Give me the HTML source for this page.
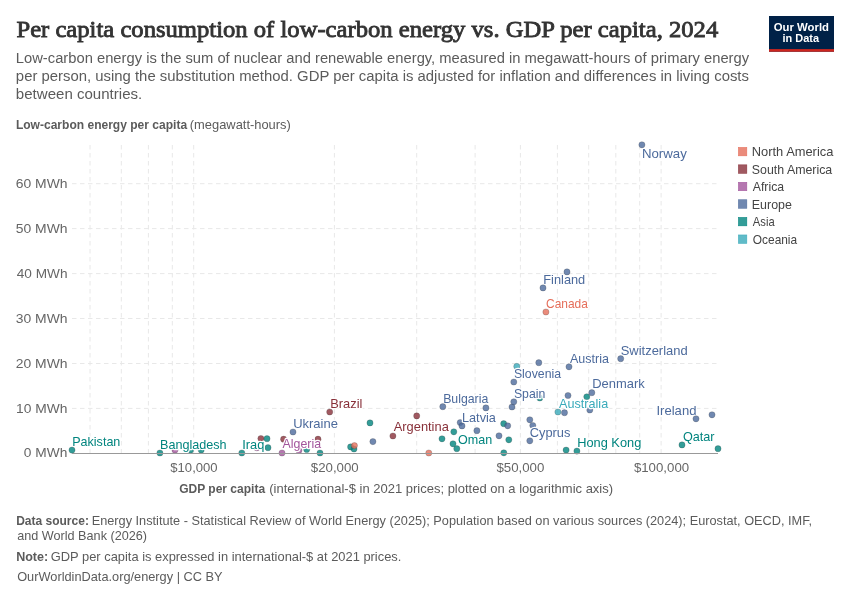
<!DOCTYPE html><html><head><meta charset="utf-8"><style>html,body{margin:0;padding:0;background:#fff;width:850px;height:600px;overflow:hidden}svg{display:block;will-change:transform}</style></head><body>
<svg width="850" height="600" viewBox="0 0 850 600">
<rect width="850" height="600" fill="#fff"/>
<text x="16.46" y="37.1" font-family='"Liberation Serif", serif' font-size="23.8" fill="#333" textLength="701.78" lengthAdjust="spacingAndGlyphs" stroke="#333" stroke-width="0.85">Per capita consumption of low-carbon energy vs. GDP per capita, 2024</text>
<text x="15.8" y="62.8" font-family='"Liberation Sans", sans-serif' font-size="14.7" fill="#5b5b5b" textLength="733.31" lengthAdjust="spacingAndGlyphs">Low-carbon energy is the sum of nuclear and renewable energy, measured in megawatt-hours of primary energy</text>
<text x="15.89" y="80.8" font-family='"Liberation Sans", sans-serif' font-size="14.7" fill="#5b5b5b" textLength="733.06" lengthAdjust="spacingAndGlyphs">per person, using the substitution method. GDP per capita is adjusted for inflation and differences in living costs</text>
<text x="15.88" y="98.7" font-family='"Liberation Sans", sans-serif' font-size="14.7" fill="#5b5b5b" textLength="126.35" lengthAdjust="spacingAndGlyphs">between countries.</text>
<rect x="769" y="16" width="65" height="35.7" fill="#002147"/>
<rect x="769" y="49.1" width="65" height="2.6" fill="#CE261E"/>
<text x="773.8" y="30.7" font-family='"Liberation Sans", sans-serif' font-size="11.5" font-weight="700" fill="#fff" textLength="55.22" lengthAdjust="spacingAndGlyphs">Our World</text>
<text x="782.55" y="42.4" font-family='"Liberation Sans", sans-serif' font-size="11.5" font-weight="700" fill="#fff" textLength="36.53" lengthAdjust="spacingAndGlyphs">in Data</text>
<text x="15.9" y="129.3" font-family='"Liberation Sans", sans-serif' font-size="12" font-weight="700" fill="#5b5b5b" textLength="171.22" lengthAdjust="spacingAndGlyphs">Low-carbon energy per capita</text>
<text x="189.78" y="129.3" font-family='"Liberation Sans", sans-serif' font-size="12.7" fill="#5b5b5b" textLength="101.05" lengthAdjust="spacingAndGlyphs">(megawatt-hours)</text>
<line x1="90.0" y1="145" x2="90.0" y2="453" stroke="#e8e8e8" stroke-width="1" stroke-dasharray="4.5,3.5"/>
<line x1="121.3" y1="145" x2="121.3" y2="453" stroke="#e8e8e8" stroke-width="1" stroke-dasharray="4.5,3.5"/>
<line x1="148.4" y1="145" x2="148.4" y2="453" stroke="#e8e8e8" stroke-width="1" stroke-dasharray="4.5,3.5"/>
<line x1="172.3" y1="145" x2="172.3" y2="453" stroke="#e8e8e8" stroke-width="1" stroke-dasharray="4.5,3.5"/>
<line x1="193.7" y1="145" x2="193.7" y2="453" stroke="#e8e8e8" stroke-width="1" stroke-dasharray="4.5,3.5"/>
<line x1="334.4" y1="145" x2="334.4" y2="453" stroke="#e8e8e8" stroke-width="1" stroke-dasharray="4.5,3.5"/>
<line x1="416.7" y1="145" x2="416.7" y2="453" stroke="#e8e8e8" stroke-width="1" stroke-dasharray="4.5,3.5"/>
<line x1="475.1" y1="145" x2="475.1" y2="453" stroke="#e8e8e8" stroke-width="1" stroke-dasharray="4.5,3.5"/>
<line x1="520.4" y1="145" x2="520.4" y2="453" stroke="#e8e8e8" stroke-width="1" stroke-dasharray="4.5,3.5"/>
<line x1="557.4" y1="145" x2="557.4" y2="453" stroke="#e8e8e8" stroke-width="1" stroke-dasharray="4.5,3.5"/>
<line x1="588.7" y1="145" x2="588.7" y2="453" stroke="#e8e8e8" stroke-width="1" stroke-dasharray="4.5,3.5"/>
<line x1="615.8" y1="145" x2="615.8" y2="453" stroke="#e8e8e8" stroke-width="1" stroke-dasharray="4.5,3.5"/>
<line x1="639.7" y1="145" x2="639.7" y2="453" stroke="#e8e8e8" stroke-width="1" stroke-dasharray="4.5,3.5"/>
<line x1="661.1" y1="145" x2="661.1" y2="453" stroke="#e8e8e8" stroke-width="1" stroke-dasharray="4.5,3.5"/>
<line x1="72" y1="408.4" x2="718" y2="408.4" stroke="#e8e8e8" stroke-width="1" stroke-dasharray="4.5,3.5"/>
<line x1="72" y1="363.5" x2="718" y2="363.5" stroke="#e8e8e8" stroke-width="1" stroke-dasharray="4.5,3.5"/>
<line x1="72" y1="318.5" x2="718" y2="318.5" stroke="#e8e8e8" stroke-width="1" stroke-dasharray="4.5,3.5"/>
<line x1="72" y1="273.6" x2="718" y2="273.6" stroke="#e8e8e8" stroke-width="1" stroke-dasharray="4.5,3.5"/>
<line x1="72" y1="228.6" x2="718" y2="228.6" stroke="#e8e8e8" stroke-width="1" stroke-dasharray="4.5,3.5"/>
<line x1="72" y1="183.7" x2="718" y2="183.7" stroke="#e8e8e8" stroke-width="1" stroke-dasharray="4.5,3.5"/>
<text x="15.73" y="188.1" font-family='"Liberation Sans", sans-serif' font-size="13" fill="#666" textLength="51.8" lengthAdjust="spacingAndGlyphs">60 MWh</text>
<text x="15.73" y="233.0" font-family='"Liberation Sans", sans-serif' font-size="13" fill="#666" textLength="51.8" lengthAdjust="spacingAndGlyphs">50 MWh</text>
<text x="16.8" y="278.0" font-family='"Liberation Sans", sans-serif' font-size="13" fill="#666" textLength="50.73" lengthAdjust="spacingAndGlyphs">40 MWh</text>
<text x="15.73" y="322.9" font-family='"Liberation Sans", sans-serif' font-size="13" fill="#666" textLength="51.8" lengthAdjust="spacingAndGlyphs">30 MWh</text>
<text x="15.73" y="367.9" font-family='"Liberation Sans", sans-serif' font-size="13" fill="#666" textLength="51.8" lengthAdjust="spacingAndGlyphs">20 MWh</text>
<text x="16.14" y="412.8" font-family='"Liberation Sans", sans-serif' font-size="13" fill="#666" textLength="51.39" lengthAdjust="spacingAndGlyphs">10 MWh</text>
<text x="23.8" y="457.3" font-family='"Liberation Sans", sans-serif' font-size="13" fill="#666" textLength="43.48" lengthAdjust="spacingAndGlyphs">0 MWh</text>
<text x="170.3" y="471.7" font-family='"Liberation Sans", sans-serif' font-size="13" fill="#666" textLength="47.3" lengthAdjust="spacingAndGlyphs">$10,000</text>
<text x="310.8" y="471.7" font-family='"Liberation Sans", sans-serif' font-size="13" fill="#666" textLength="47.9" lengthAdjust="spacingAndGlyphs">$20,000</text>
<text x="496.4" y="471.7" font-family='"Liberation Sans", sans-serif' font-size="13" fill="#666" textLength="48.0" lengthAdjust="spacingAndGlyphs">$50,000</text>
<text x="633.9" y="471.7" font-family='"Liberation Sans", sans-serif' font-size="13" fill="#666" textLength="55.24" lengthAdjust="spacingAndGlyphs">$100,000</text>
<text x="179.2" y="492.8" font-family='"Liberation Sans", sans-serif' font-size="12" font-weight="700" fill="#5b5b5b" textLength="85.91" lengthAdjust="spacingAndGlyphs">GDP per capita</text>
<text x="269.19" y="492.8" font-family='"Liberation Sans", sans-serif' font-size="12.9" fill="#5b5b5b" textLength="343.9" lengthAdjust="spacingAndGlyphs">(international-$ in 2021 prices; plotted on a logarithmic axis)</text>
<circle cx="567" cy="271.9" r="3.1" fill="#4C6A9C" fill-opacity="0.8" stroke="#333" stroke-opacity="0.45" stroke-width="0.5"/>
<circle cx="538.8" cy="362.7" r="3.1" fill="#4C6A9C" fill-opacity="0.8" stroke="#333" stroke-opacity="0.45" stroke-width="0.5"/>
<circle cx="516.8" cy="366.4" r="3.1" fill="#38AABA" fill-opacity="0.8" stroke="#333" stroke-opacity="0.45" stroke-width="0.5"/>
<circle cx="586.8" cy="396.8" r="3.1" fill="#00847E" fill-opacity="0.8" stroke="#333" stroke-opacity="0.45" stroke-width="0.5"/>
<circle cx="568" cy="395.5" r="3.1" fill="#4C6A9C" fill-opacity="0.8" stroke="#333" stroke-opacity="0.45" stroke-width="0.5"/>
<circle cx="539.8" cy="398" r="3.1" fill="#00847E" fill-opacity="0.8" stroke="#333" stroke-opacity="0.45" stroke-width="0.5"/>
<circle cx="512" cy="407" r="3.1" fill="#4C6A9C" fill-opacity="0.8" stroke="#333" stroke-opacity="0.45" stroke-width="0.5"/>
<circle cx="485.9" cy="407.9" r="3.1" fill="#4C6A9C" fill-opacity="0.8" stroke="#333" stroke-opacity="0.45" stroke-width="0.5"/>
<circle cx="589.8" cy="410" r="3.1" fill="#4C6A9C" fill-opacity="0.8" stroke="#333" stroke-opacity="0.45" stroke-width="0.5"/>
<circle cx="564.5" cy="412.7" r="3.1" fill="#4C6A9C" fill-opacity="0.8" stroke="#333" stroke-opacity="0.45" stroke-width="0.5"/>
<circle cx="416.7" cy="415.9" r="3.1" fill="#883039" fill-opacity="0.8" stroke="#333" stroke-opacity="0.45" stroke-width="0.5"/>
<circle cx="712" cy="414.8" r="3.1" fill="#4C6A9C" fill-opacity="0.8" stroke="#333" stroke-opacity="0.45" stroke-width="0.5"/>
<circle cx="529.8" cy="419.8" r="3.1" fill="#4C6A9C" fill-opacity="0.8" stroke="#333" stroke-opacity="0.45" stroke-width="0.5"/>
<circle cx="532.8" cy="425.5" r="3.1" fill="#4C6A9C" fill-opacity="0.8" stroke="#333" stroke-opacity="0.45" stroke-width="0.5"/>
<circle cx="370" cy="422.9" r="3.1" fill="#00847E" fill-opacity="0.8" stroke="#333" stroke-opacity="0.45" stroke-width="0.5"/>
<circle cx="460.2" cy="422.6" r="3.1" fill="#4C6A9C" fill-opacity="0.8" stroke="#333" stroke-opacity="0.45" stroke-width="0.5"/>
<circle cx="503.7" cy="423.7" r="3.1" fill="#00847E" fill-opacity="0.8" stroke="#333" stroke-opacity="0.45" stroke-width="0.5"/>
<circle cx="507.7" cy="425.8" r="3.1" fill="#4C6A9C" fill-opacity="0.8" stroke="#333" stroke-opacity="0.45" stroke-width="0.5"/>
<circle cx="453.8" cy="431.8" r="3.1" fill="#00847E" fill-opacity="0.8" stroke="#333" stroke-opacity="0.45" stroke-width="0.5"/>
<circle cx="476.9" cy="430.7" r="3.1" fill="#4C6A9C" fill-opacity="0.8" stroke="#333" stroke-opacity="0.45" stroke-width="0.5"/>
<circle cx="499" cy="435.8" r="3.1" fill="#4C6A9C" fill-opacity="0.8" stroke="#333" stroke-opacity="0.45" stroke-width="0.5"/>
<circle cx="442" cy="438.8" r="3.1" fill="#00847E" fill-opacity="0.8" stroke="#333" stroke-opacity="0.45" stroke-width="0.5"/>
<circle cx="508.8" cy="439.8" r="3.1" fill="#00847E" fill-opacity="0.8" stroke="#333" stroke-opacity="0.45" stroke-width="0.5"/>
<circle cx="372.9" cy="441.6" r="3.1" fill="#4C6A9C" fill-opacity="0.8" stroke="#333" stroke-opacity="0.45" stroke-width="0.5"/>
<circle cx="260.9" cy="438.5" r="3.1" fill="#883039" fill-opacity="0.8" stroke="#333" stroke-opacity="0.45" stroke-width="0.5"/>
<circle cx="267" cy="438.7" r="3.1" fill="#00847E" fill-opacity="0.8" stroke="#333" stroke-opacity="0.45" stroke-width="0.5"/>
<circle cx="283.6" cy="439.2" r="3.1" fill="#883039" fill-opacity="0.8" stroke="#333" stroke-opacity="0.45" stroke-width="0.5"/>
<circle cx="318" cy="439.2" r="3.1" fill="#883039" fill-opacity="0.8" stroke="#333" stroke-opacity="0.45" stroke-width="0.5"/>
<circle cx="453" cy="443.8" r="3.1" fill="#00847E" fill-opacity="0.8" stroke="#333" stroke-opacity="0.45" stroke-width="0.5"/>
<circle cx="350.6" cy="446.9" r="3.1" fill="#00847E" fill-opacity="0.8" stroke="#333" stroke-opacity="0.45" stroke-width="0.5"/>
<circle cx="268" cy="447.7" r="3.1" fill="#00847E" fill-opacity="0.8" stroke="#333" stroke-opacity="0.45" stroke-width="0.5"/>
<circle cx="354" cy="449" r="3.1" fill="#00847E" fill-opacity="0.8" stroke="#333" stroke-opacity="0.45" stroke-width="0.5"/>
<circle cx="354.4" cy="445.6" r="3.1" fill="#E56E5A" fill-opacity="0.8" stroke="#333" stroke-opacity="0.45" stroke-width="0.5"/>
<circle cx="566.1" cy="450.1" r="3.1" fill="#00847E" fill-opacity="0.8" stroke="#333" stroke-opacity="0.45" stroke-width="0.5"/>
<circle cx="718" cy="448.7" r="3.1" fill="#00847E" fill-opacity="0.8" stroke="#333" stroke-opacity="0.45" stroke-width="0.5"/>
<circle cx="175" cy="450" r="3.1" fill="#A2559C" fill-opacity="0.8" stroke="#333" stroke-opacity="0.45" stroke-width="0.5"/>
<circle cx="190.6" cy="450" r="3.1" fill="#00847E" fill-opacity="0.8" stroke="#333" stroke-opacity="0.45" stroke-width="0.5"/>
<circle cx="201.2" cy="450" r="3.1" fill="#00847E" fill-opacity="0.8" stroke="#333" stroke-opacity="0.45" stroke-width="0.5"/>
<circle cx="256.9" cy="447.8" r="3.1" fill="#A2559C" fill-opacity="0.8" stroke="#333" stroke-opacity="0.45" stroke-width="0.5"/>
<circle cx="298.9" cy="450.4" r="3.1" fill="#A2559C" fill-opacity="0.8" stroke="#333" stroke-opacity="0.45" stroke-width="0.5"/>
<circle cx="306.7" cy="449.5" r="3.1" fill="#00847E" fill-opacity="0.8" stroke="#333" stroke-opacity="0.45" stroke-width="0.5"/>
<circle cx="320" cy="453" r="3.1" fill="#00847E" fill-opacity="0.8" stroke="#333" stroke-opacity="0.45" stroke-width="0.5"/>
<circle cx="428.8" cy="453" r="3.1" fill="#E56E5A" fill-opacity="0.8" stroke="#333" stroke-opacity="0.45" stroke-width="0.5"/>
<circle cx="503.8" cy="452.8" r="3.1" fill="#00847E" fill-opacity="0.8" stroke="#333" stroke-opacity="0.45" stroke-width="0.5"/>
<text x="641.96" y="158.2" font-family='"Liberation Sans", sans-serif' font-size="12.7" fill="#4C6A9C" textLength="44.86" lengthAdjust="spacingAndGlyphs" stroke="#fff" stroke-width="2.5" stroke-linejoin="round" paint-order="stroke">Norway</text>
<text x="543.29" y="283.9" font-family='"Liberation Sans", sans-serif' font-size="12.7" fill="#4C6A9C" textLength="41.94" lengthAdjust="spacingAndGlyphs" stroke="#fff" stroke-width="2.5" stroke-linejoin="round" paint-order="stroke">Finland</text>
<text x="546.06" y="307.5" font-family='"Liberation Sans", sans-serif' font-size="12.7" fill="#E56E5A" textLength="41.83" lengthAdjust="spacingAndGlyphs" stroke="#fff" stroke-width="2.5" stroke-linejoin="round" paint-order="stroke">Canada</text>
<text x="620.68" y="354.5" font-family='"Liberation Sans", sans-serif' font-size="12.7" fill="#4C6A9C" textLength="67.03" lengthAdjust="spacingAndGlyphs" stroke="#fff" stroke-width="2.5" stroke-linejoin="round" paint-order="stroke">Switzerland</text>
<text x="569.9" y="362.5" font-family='"Liberation Sans", sans-serif' font-size="12.7" fill="#4C6A9C" textLength="39.01" lengthAdjust="spacingAndGlyphs" stroke="#fff" stroke-width="2.5" stroke-linejoin="round" paint-order="stroke">Austria</text>
<text x="513.93" y="377.5" font-family='"Liberation Sans", sans-serif' font-size="12.7" fill="#4C6A9C" textLength="47.15" lengthAdjust="spacingAndGlyphs" stroke="#fff" stroke-width="2.5" stroke-linejoin="round" paint-order="stroke">Slovenia</text>
<text x="592.18" y="388.3" font-family='"Liberation Sans", sans-serif' font-size="12.7" fill="#4C6A9C" textLength="52.5" lengthAdjust="spacingAndGlyphs" stroke="#fff" stroke-width="2.5" stroke-linejoin="round" paint-order="stroke">Denmark</text>
<text x="513.93" y="397.8" font-family='"Liberation Sans", sans-serif' font-size="12.7" fill="#4C6A9C" textLength="31.41" lengthAdjust="spacingAndGlyphs" stroke="#fff" stroke-width="2.5" stroke-linejoin="round" paint-order="stroke">Spain</text>
<text x="443.13" y="402.7" font-family='"Liberation Sans", sans-serif' font-size="12.7" fill="#4C6A9C" textLength="45.15" lengthAdjust="spacingAndGlyphs" stroke="#fff" stroke-width="2.5" stroke-linejoin="round" paint-order="stroke">Bulgaria</text>
<text x="330.29" y="407.5" font-family='"Liberation Sans", sans-serif' font-size="12.7" fill="#883039" textLength="32.1" lengthAdjust="spacingAndGlyphs" stroke="#fff" stroke-width="2.5" stroke-linejoin="round" paint-order="stroke">Brazil</text>
<text x="559.1" y="407.5" font-family='"Liberation Sans", sans-serif' font-size="12.7" fill="#38AABA" textLength="49.07" lengthAdjust="spacingAndGlyphs" stroke="#fff" stroke-width="2.5" stroke-linejoin="round" paint-order="stroke">Australia</text>
<text x="656.47" y="414.5" font-family='"Liberation Sans", sans-serif' font-size="12.7" fill="#4C6A9C" textLength="39.95" lengthAdjust="spacingAndGlyphs" stroke="#fff" stroke-width="2.5" stroke-linejoin="round" paint-order="stroke">Ireland</text>
<text x="462.0" y="421.5" font-family='"Liberation Sans", sans-serif' font-size="12.7" fill="#4C6A9C" textLength="33.86" lengthAdjust="spacingAndGlyphs" stroke="#fff" stroke-width="2.5" stroke-linejoin="round" paint-order="stroke">Latvia</text>
<text x="293.18" y="427.7" font-family='"Liberation Sans", sans-serif' font-size="12.7" fill="#4C6A9C" textLength="44.76" lengthAdjust="spacingAndGlyphs" stroke="#fff" stroke-width="2.5" stroke-linejoin="round" paint-order="stroke">Ukraine</text>
<text x="393.7" y="431.3" font-family='"Liberation Sans", sans-serif' font-size="12.7" fill="#883039" textLength="55.12" lengthAdjust="spacingAndGlyphs" stroke="#fff" stroke-width="2.5" stroke-linejoin="round" paint-order="stroke">Argentina</text>
<text x="529.69" y="436.8" font-family='"Liberation Sans", sans-serif' font-size="12.7" fill="#4C6A9C" textLength="40.7" lengthAdjust="spacingAndGlyphs" stroke="#fff" stroke-width="2.5" stroke-linejoin="round" paint-order="stroke">Cyprus</text>
<text x="682.9" y="440.6" font-family='"Liberation Sans", sans-serif' font-size="12.7" fill="#00847E" textLength="31.64" lengthAdjust="spacingAndGlyphs" stroke="#fff" stroke-width="2.5" stroke-linejoin="round" paint-order="stroke">Qatar</text>
<text x="458.1" y="444.3" font-family='"Liberation Sans", sans-serif' font-size="12.7" fill="#00847E" textLength="34.16" lengthAdjust="spacingAndGlyphs" stroke="#fff" stroke-width="2.5" stroke-linejoin="round" paint-order="stroke">Oman</text>
<text x="72.21" y="445.7" font-family='"Liberation Sans", sans-serif' font-size="12.7" fill="#00847E" textLength="48.15" lengthAdjust="spacingAndGlyphs" stroke="#fff" stroke-width="2.5" stroke-linejoin="round" paint-order="stroke">Pakistan</text>
<text x="577.19" y="446.8" font-family='"Liberation Sans", sans-serif' font-size="12.7" fill="#00847E" textLength="64.11" lengthAdjust="spacingAndGlyphs" stroke="#fff" stroke-width="2.5" stroke-linejoin="round" paint-order="stroke">Hong Kong</text>
<text x="160.01" y="448.8" font-family='"Liberation Sans", sans-serif' font-size="12.7" fill="#00847E" textLength="66.62" lengthAdjust="spacingAndGlyphs" stroke="#fff" stroke-width="2.5" stroke-linejoin="round" paint-order="stroke">Bangladesh</text>
<text x="242.29" y="448.6" font-family='"Liberation Sans", sans-serif' font-size="12.7" fill="#00847E" textLength="22.09" lengthAdjust="spacingAndGlyphs" stroke="#fff" stroke-width="2.5" stroke-linejoin="round" paint-order="stroke">Iraq</text>
<text x="282.6" y="448.4" font-family='"Liberation Sans", sans-serif' font-size="12.7" fill="#A2559C" textLength="38.41" lengthAdjust="spacingAndGlyphs" stroke="#fff" stroke-width="2.5" stroke-linejoin="round" paint-order="stroke">Algeria</text>
<circle cx="641.9" cy="144.8" r="3.1" fill="#4C6A9C" fill-opacity="0.8" stroke="#333" stroke-opacity="0.45" stroke-width="0.5"/>
<circle cx="543" cy="287.9" r="3.1" fill="#4C6A9C" fill-opacity="0.8" stroke="#333" stroke-opacity="0.45" stroke-width="0.5"/>
<circle cx="545.9" cy="312" r="3.1" fill="#E56E5A" fill-opacity="0.8" stroke="#333" stroke-opacity="0.45" stroke-width="0.5"/>
<circle cx="620.7" cy="358.7" r="3.1" fill="#4C6A9C" fill-opacity="0.8" stroke="#333" stroke-opacity="0.45" stroke-width="0.5"/>
<circle cx="569" cy="366.8" r="3.1" fill="#4C6A9C" fill-opacity="0.8" stroke="#333" stroke-opacity="0.45" stroke-width="0.5"/>
<circle cx="513.8" cy="382" r="3.1" fill="#4C6A9C" fill-opacity="0.8" stroke="#333" stroke-opacity="0.45" stroke-width="0.5"/>
<circle cx="591.8" cy="392.7" r="3.1" fill="#4C6A9C" fill-opacity="0.8" stroke="#333" stroke-opacity="0.45" stroke-width="0.5"/>
<circle cx="513.8" cy="401.8" r="3.1" fill="#4C6A9C" fill-opacity="0.8" stroke="#333" stroke-opacity="0.45" stroke-width="0.5"/>
<circle cx="442.8" cy="406.7" r="3.1" fill="#4C6A9C" fill-opacity="0.8" stroke="#333" stroke-opacity="0.45" stroke-width="0.5"/>
<circle cx="557.9" cy="412" r="3.1" fill="#38AABA" fill-opacity="0.8" stroke="#333" stroke-opacity="0.45" stroke-width="0.5"/>
<circle cx="329.7" cy="412" r="3.1" fill="#883039" fill-opacity="0.8" stroke="#333" stroke-opacity="0.45" stroke-width="0.5"/>
<circle cx="696" cy="418.8" r="3.1" fill="#4C6A9C" fill-opacity="0.8" stroke="#333" stroke-opacity="0.45" stroke-width="0.5"/>
<circle cx="462" cy="425.9" r="3.1" fill="#4C6A9C" fill-opacity="0.8" stroke="#333" stroke-opacity="0.45" stroke-width="0.5"/>
<circle cx="293" cy="432" r="3.1" fill="#4C6A9C" fill-opacity="0.8" stroke="#333" stroke-opacity="0.45" stroke-width="0.5"/>
<circle cx="392.9" cy="436" r="3.1" fill="#883039" fill-opacity="0.8" stroke="#333" stroke-opacity="0.45" stroke-width="0.5"/>
<circle cx="529.8" cy="440.8" r="3.1" fill="#4C6A9C" fill-opacity="0.8" stroke="#333" stroke-opacity="0.45" stroke-width="0.5"/>
<circle cx="682" cy="444.9" r="3.1" fill="#00847E" fill-opacity="0.8" stroke="#333" stroke-opacity="0.45" stroke-width="0.5"/>
<circle cx="456.8" cy="448.7" r="3.1" fill="#00847E" fill-opacity="0.8" stroke="#333" stroke-opacity="0.45" stroke-width="0.5"/>
<circle cx="576.9" cy="451.1" r="3.1" fill="#00847E" fill-opacity="0.8" stroke="#333" stroke-opacity="0.45" stroke-width="0.5"/>
<circle cx="72" cy="450.1" r="3.1" fill="#00847E" fill-opacity="0.8" stroke="#333" stroke-opacity="0.45" stroke-width="0.5"/>
<circle cx="159.9" cy="453" r="3.1" fill="#00847E" fill-opacity="0.8" stroke="#333" stroke-opacity="0.45" stroke-width="0.5"/>
<circle cx="241.8" cy="453" r="3.1" fill="#00847E" fill-opacity="0.8" stroke="#333" stroke-opacity="0.45" stroke-width="0.5"/>
<circle cx="282" cy="453" r="3.1" fill="#A2559C" fill-opacity="0.8" stroke="#333" stroke-opacity="0.45" stroke-width="0.5"/>
<line x1="72" y1="453.5" x2="718" y2="453.5" stroke="#999" stroke-width="1"/>
<rect x="738.35" y="147.35" width="8.5" height="8.5" fill="#E56E5A" fill-opacity="0.8" stroke="#E56E5A" stroke-width="0.5"/>
<text x="751.78" y="156.1" font-family='"Liberation Sans", sans-serif' font-size="12.7" fill="#444" textLength="81.61" lengthAdjust="spacingAndGlyphs">North America</text>
<rect x="738.35" y="164.85" width="8.5" height="8.5" fill="#883039" fill-opacity="0.8" stroke="#883039" stroke-width="0.5"/>
<text x="751.83" y="173.6" font-family='"Liberation Sans", sans-serif' font-size="12.7" fill="#444" textLength="80.4" lengthAdjust="spacingAndGlyphs">South America</text>
<rect x="738.35" y="182.25" width="8.5" height="8.5" fill="#A2559C" fill-opacity="0.8" stroke="#A2559C" stroke-width="0.5"/>
<text x="752.8" y="191" font-family='"Liberation Sans", sans-serif' font-size="12.7" fill="#444" textLength="31.26" lengthAdjust="spacingAndGlyphs">Africa</text>
<rect x="738.35" y="199.75" width="8.5" height="8.5" fill="#4C6A9C" fill-opacity="0.8" stroke="#4C6A9C" stroke-width="0.5"/>
<text x="751.82" y="208.5" font-family='"Liberation Sans", sans-serif' font-size="12.7" fill="#444" textLength="40.08" lengthAdjust="spacingAndGlyphs">Europe</text>
<rect x="738.35" y="217.35" width="8.5" height="8.5" fill="#00847E" fill-opacity="0.8" stroke="#00847E" stroke-width="0.5"/>
<text x="752.8" y="226.1" font-family='"Liberation Sans", sans-serif' font-size="12.7" fill="#444" textLength="21.82" lengthAdjust="spacingAndGlyphs">Asia</text>
<rect x="738.35" y="234.95" width="8.5" height="8.5" fill="#38AABA" fill-opacity="0.8" stroke="#38AABA" stroke-width="0.5"/>
<text x="752.8" y="243.7" font-family='"Liberation Sans", sans-serif' font-size="12.7" fill="#444" textLength="44.35" lengthAdjust="spacingAndGlyphs">Oceania</text>
<text x="16.2" y="525.4" font-family='"Liberation Sans", sans-serif' font-size="12" font-weight="700" fill="#5b5b5b" textLength="72.7" lengthAdjust="spacingAndGlyphs">Data source:</text>
<text x="91.7" y="525.4" font-family='"Liberation Sans", sans-serif' font-size="12.7" fill="#5b5b5b" textLength="720.46" lengthAdjust="spacingAndGlyphs">Energy Institute - Statistical Review of World Energy (2025); Population based on various sources (2024); Eurostat, OECD, IMF,</text>
<text x="17.2" y="540.4" font-family='"Liberation Sans", sans-serif' font-size="12.7" fill="#5b5b5b" textLength="129.85" lengthAdjust="spacingAndGlyphs">and World Bank (2026)</text>
<text x="16.16" y="561" font-family='"Liberation Sans", sans-serif' font-size="12" font-weight="700" fill="#5b5b5b" textLength="32.05" lengthAdjust="spacingAndGlyphs">Note:</text>
<text x="50.78" y="561" font-family='"Liberation Sans", sans-serif' font-size="12.7" fill="#5b5b5b" textLength="350.58" lengthAdjust="spacingAndGlyphs">GDP per capita is expressed in international-$ at 2021 prices.</text>
<text x="17.2" y="580.6" font-family='"Liberation Sans", sans-serif' font-size="12.7" fill="#5b5b5b" textLength="205.33" lengthAdjust="spacingAndGlyphs">OurWorldinData.org/energy | CC BY</text>
</svg></body></html>
